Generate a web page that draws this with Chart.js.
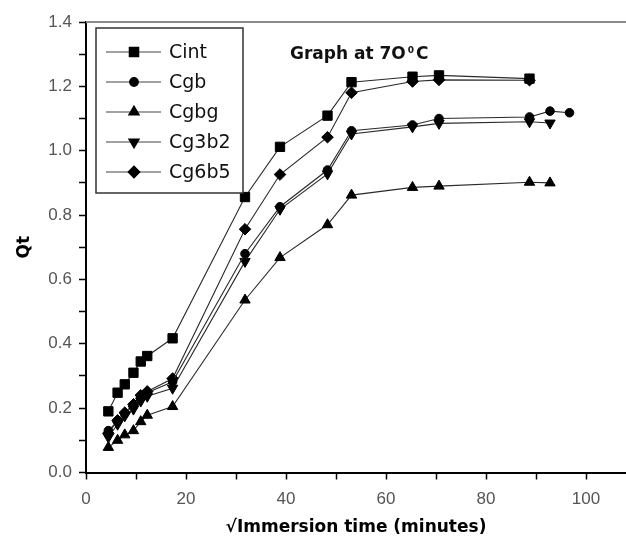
<!DOCTYPE html>
<html>
<head>
<meta charset="utf-8">
<script src="https://cdn.jsdelivr.net/npm/chart.js@4.4.1/dist/chart.umd.min.js"></script>
<style>
  html, body { margin: 0; padding: 0; background: #fff; }
  #wrap { width: 626px; height: 538px; position: relative; }
</style>
</head>
<body>
<div id="wrap"><canvas id="qtChart"></canvas></div>
<script>
// --- 1. DATA ---
const timeRoot = [4.47, 6.32, 7.75, 9.49, 10.95, 12.25, 17.32, 31.8, 38.8, 48.3, 53.1, 65.3, 70.6, 88.7, 92.8, 96.7];
const seriesNames = ['Cint', 'Cgb', 'Cgbg', 'Cg3b2', 'Cg6b5'];
const cintValues = [0.19, 0.248, 0.274, 0.31, 0.345, 0.362, 0.417, 0.856, 1.012, 1.109, 1.213, 1.23, 1.234, 1.224];
const cgbValues = [0.13, 0.16, 0.183, 0.207, 0.232, 0.248, 0.282, 0.68, 0.826, 0.94, 1.062, 1.08, 1.1, 1.105, 1.123, 1.118];
const cgbgValues = [0.078, 0.1, 0.117, 0.13, 0.158, 0.178, 0.205, 0.536, 0.668, 0.77, 0.862, 0.886, 0.89, 0.902, 0.9];
const cg3b2Values = [0.11, 0.15, 0.176, 0.197, 0.222, 0.237, 0.262, 0.656, 0.818, 0.928, 1.052, 1.074, 1.085, 1.09, 1.086];
const cg6b5Values = [0.122, 0.162, 0.186, 0.212, 0.24, 0.252, 0.292, 0.756, 0.926, 1.042, 1.18, 1.215, 1.22, 1.219];
const xTickValues = [0, 10, 20, 30, 40, 50, 60, 70, 80, 90, 100];
const yTickValues = [0, 0.1, 0.2, 0.3, 0.4, 0.5, 0.6, 0.7, 0.8, 0.9, 1.0, 1.1, 1.2, 1.3, 1.4];

// --- 2. STYLE ---
const markers = [
  { pointStyle: 'rect', rotation: 0, radius: 6.6 },
  { pointStyle: 'circle', rotation: 0, radius: 4.3 },
  { pointStyle: 'triangle', rotation: 0, radius: 6 },
  { pointStyle: 'triangle', rotation: 180, radius: 6 },
  { pointStyle: 'rectRot', rotation: 0, radius: 5.8 }
];
const lineColor = '#2a2a2a';
const tickFont = { family: 'Liberation Sans', size: 17 };
const boldFont = 'DejaVu Sans';

const pair = (vals) => vals.map((v, i) => ({ x: timeRoot[i], y: v }));
const allValues = [cintValues, cgbValues, cgbgValues, cg3b2Values, cg6b5Values];

// --- 3. PLUGIN: frame top line, title text, legend box ---
const decorPlugin = {
  id: 'decor',
  afterDraw(chart) {
    const { ctx, chartArea } = chart;
    ctx.save();

    // top frame line
    ctx.strokeStyle = '#8a8a8a';
    ctx.lineWidth = 2;
    ctx.beginPath();
    ctx.moveTo(chartArea.left, chartArea.top);
    ctx.lineTo(chart.width, chartArea.top);
    ctx.stroke();

    // "Graph at 7O°C"
    ctx.fillStyle = '#111';
    ctx.textBaseline = 'alphabetic';
    ctx.textAlign = 'left';
    ctx.font = `bold 17px "${boldFont}"`;
    let tx = 290;
    ctx.fillText('Graph at 7O', tx, 59);
    tx += ctx.measureText('Graph at 7O').width + 2;
    ctx.font = `bold 9px "${boldFont}"`;
    ctx.fillText('0', tx, 53);
    tx += ctx.measureText('0').width + 2;
    ctx.font = `bold 17px "${boldFont}"`;
    ctx.fillText('C', tx, 59);

    // legend
    const box = { left: 96, top: 28, right: 243, bottom: 193 };
    ctx.fillStyle = '#fff';
    ctx.fillRect(box.left, box.top, box.right - box.left, box.bottom - box.top);
    ctx.strokeStyle = '#333';
    ctx.lineWidth = 1.5;
    ctx.strokeRect(box.left, box.top, box.right - box.left, box.bottom - box.top);

    chart.data.datasets.forEach((ds, i) => {
      const y = 52 + i * 30;
      ctx.strokeStyle = '#444';
      ctx.lineWidth = 1.2;
      ctx.beginPath();
      ctx.moveTo(106, y);
      ctx.lineTo(161, y);
      ctx.stroke();
      ctx.fillStyle = '#000';
      ctx.strokeStyle = '#000';
      Chart.helpers.drawPoint(ctx, {
        pointStyle: ds.pointStyle,
        rotation: ds.rotation,
        radius: ds.pointRadius,
        borderWidth: 1
      }, 134, y);
      ctx.fillStyle = '#111';
      ctx.font = '19px "DejaVu Sans"';
      ctx.textBaseline = 'middle';
      ctx.fillText(ds.label, 169, y + 1);
    });
    ctx.restore();
  }
};

// --- 4. CHART ---
window.addEventListener('DOMContentLoaded', () => {
  const ctx = document.getElementById('qtChart').getContext('2d');

  const datasets = seriesNames.map((name, i) => ({
    label: name,
    data: pair(allValues[i]),
    borderColor: lineColor,
    borderWidth: 1.1,
    backgroundColor: '#000',
    pointBackgroundColor: '#000',
    pointBorderColor: '#000',
    pointBorderWidth: 1,
    pointStyle: markers[i].pointStyle,
    rotation: markers[i].rotation,
    pointRadius: markers[i].radius,
    tension: 0,
    fill: false
  }));

  window.qtChart = new Chart(ctx, {
    type: 'line',
    data: { datasets },
    options: {
      responsive: true,
      maintainAspectRatio: false,
      animation: false,
      layout: { autoPadding: false, padding: { top: 22, right: 0, left: 0, bottom: 0 } },
      plugins: { legend: { display: false }, tooltip: { enabled: false } },
      scales: {
        x: {
          type: 'linear',
          min: 0,
          max: 108,
          afterBuildTicks: (scale) => { scale.ticks = xTickValues.map(v => ({ value: v })); },
          afterFit: (scale) => { scale.height = 65.5; },
          ticks: {
            color: '#555',
            font: tickFont,
            padding: 10,
            maxRotation: 0,
            autoSkip: false,
            callback: (v) => (v % 20 === 0 ? String(v) : '')
          },
          grid: { drawOnChartArea: false, drawTicks: true, tickLength: 7, color: '#000', tickWidth: 1.5 },
          border: { display: true, color: '#000', width: 2 },
          title: {
            display: true,
            text: '√Immersion time (minutes)',
            color: '#000',
            font: { family: boldFont, size: 17, weight: 'bold' },
            padding: { top: 0, bottom: 0 }
          }
        },
        y: {
          type: 'linear',
          min: 0,
          max: 1.4,
          afterBuildTicks: (scale) => { scale.ticks = yTickValues.map(v => ({ value: v })); },
          afterFit: (scale) => { scale.width = 86; },
          ticks: {
            color: '#555',
            font: tickFont,
            padding: 7,
            autoSkip: false,
            callback: (v) => (Math.round(v * 10) % 2 === 0 ? v.toFixed(1) : '')
          },
          grid: { drawOnChartArea: false, drawTicks: true, tickLength: 7, color: '#000', tickWidth: 1.5 },
          border: { display: true, color: '#000', width: 2 },
          title: {
            display: true,
            text: 'Qt',
            color: '#000',
            font: { family: boldFont, size: 17, weight: 'bold' },
            padding: { top: 14, bottom: 0 }
          }
        }
      }
    },
    plugins: [decorPlugin]
  });
});
</script>
</body>
</html>
